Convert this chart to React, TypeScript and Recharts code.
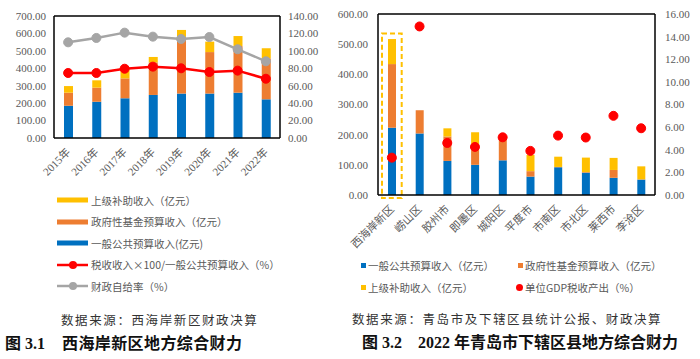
import {
  Bar,
  ComposedChart,
  Line,
  ReferenceArea,
  ReferenceLine,
  XAxis,
  YAxis,
} from "recharts";

// 图 3.1 西海岸新区
const years = ["2015年", "2016年", "2017年", "2018年", "2019年", "2020年", "2021年", "2022年"];
const xhaGeneral = [185, 208, 228, 247, 255, 255, 260, 222];
const xhaFund = [75, 81, 114, 187, 325, 238, 268, 235];
const xhaSubsidy = [38, 42, 48, 31, 40, 60, 57, 58];
const xhaTaxRatio = [74.6, 74.6, 79.5, 81.9, 80.0, 75.7, 77.3, 68.0];
const xhaSelfRate = [109.8, 114.8, 120.9, 116.3, 113.6, 115.9, 101.8, 88.0];
const leftTicks1 = [0, 100, 200, 300, 400, 500, 600, 700];
const rightTicks1 = [0, 20, 40, 60, 80, 100, 120, 140];

// 图 3.2 青岛市下辖区县 2022
const districts = ["西海岸新区", "崂山区", "胶州市", "即墨区", "城阳区", "平度市", "市南区", "市北区", "莱西市", "李沧区"];
const qdGeneral = [223, 204, 113, 100, 115, 61, 92, 74, 57, 51];
const qdFund = [211, 77, 81, 68, 73, 18, 1, 2, 26, 1];
const qdSubsidy = [83, 0, 27, 40, 0, 54, 34, 48, 40, 43];
const qdGdpTax = [3.3, 14.9, 4.6, 4.25, 5.1, 3.9, 5.25, 5.08, 7.0, 5.9];
const leftTicks2 = [0, 100, 200, 300, 400, 500, 600];
const rightTicks2 = [0, 2, 4, 6, 8, 10, 12, 14, 16];

const BLUE = "#0070C0";
const ORANGE = "#ED7D31";
const YELLOW = "#FFC000";
const RED = "#FF0000";
const GRAY = "#A5A5A5";
const TXT = "#595959";
const FONT = '"Liberation Serif", "Noto Sans CJK SC", serif';
const CJK = '"Noto Sans CJK SC", "Liberation Serif", sans-serif';

const tickStyle = { fontSize: 11, fill: TXT, fontFamily: FONT };
const fmt = (v: number) => v.toFixed(2);

const data1 = years.map((y, i) => ({
  name: y,
  general: xhaGeneral[i],
  fund: xhaFund[i],
  subsidy: xhaSubsidy[i],
  tax: xhaTaxRatio[i],
  self: xhaSelfRate[i],
}));

const data2 = districts.map((d, i) => ({
  name: d,
  general: qdGeneral[i],
  fund: qdFund[i],
  subsidy: qdSubsidy[i],
  gdp: qdGdpTax[i],
}));

function RotTick(props: any) {
  const { x, y, payload } = props;
  return (
    <g transform={`translate(${x},${y + 4})`}>
      <text
        x={0}
        y={0}
        dy={4}
        textAnchor="end"
        transform="rotate(-45)"
        fontSize={11}
        fill={TXT}
        fontFamily={FONT}
      >
        {payload.value}
      </text>
    </g>
  );
}

function LegendRow({ top, kind, color, label }: { top: number; kind: "bar" | "line"; color: string; label: string }) {
  return (
    <div style={{ position: "absolute", left: 57, top: top - 8, height: 16, display: "flex", alignItems: "center" }}>
      <svg width={32} height={12} style={{ display: "block" }}>
        {kind === "bar" ? (
          <rect x={0} y={3.5} width={31} height={5} fill={color} />
        ) : (
          <>
            <line x1={0} y1={6} x2={31} y2={6} stroke={color} strokeWidth={2.5} />
            <circle cx={16} cy={6} r={4} fill={color} />
          </>
        )}
      </svg>
      <span style={{ marginLeft: 2, fontSize: 10.5, color: TXT, fontFamily: CJK, whiteSpace: "nowrap" }}>{label}</span>
    </div>
  );
}

function SquareItem({ left, top, color, round, label }: { left: number; top: number; color: string; round?: boolean; label: string }) {
  return (
    <div style={{ position: "absolute", left, top: top - 8, height: 16, display: "flex", alignItems: "center" }}>
      <span
        style={{
          display: "inline-block",
          width: round ? 7 : 5,
          height: round ? 7 : 5,
          borderRadius: round ? "50%" : 0,
          background: color,
        }}
      />
      <span style={{ marginLeft: 2, fontSize: 10.5, color: TXT, fontFamily: CJK, whiteSpace: "nowrap" }}>{label}</span>
    </div>
  );
}

function DashBox(props: any) {
  const { x, y, width, height } = props;
  return (
    <rect
      x={x + 4}
      y={y}
      width={width - 8}
      height={height + 3}
      fill="none"
      stroke={YELLOW}
      strokeWidth={2}
      strokeDasharray="5 3"
    />
  );
}

const captionStyle: React.CSSProperties = {
  position: "absolute",
  fontSize: 12.5,
  letterSpacing: 1.6,
  color: "#333",
  fontFamily: CJK,
  whiteSpace: "nowrap",
};

const titleStyle: React.CSSProperties = {
  position: "absolute",
  fontSize: 16,
  fontWeight: 700,
  color: "#111",
  fontFamily: '"Liberation Serif", "Noto Sans CJK SC", serif',
  whiteSpace: "nowrap",
  lineHeight: "20px",
};

export default function App() {
  return (
    <div
      style={{
        position: "absolute",
        left: 0,
        top: 0,
        width: 700,
        height: 359,
        background: "#fff",
        overflow: "hidden",
      }}
    >
      {/* left chart */}
      <div style={{ position: "absolute", left: 0, top: 0 }}>
        <ComposedChart
          width={330}
          height={188}
          data={data1}
          margin={{ top: 16, right: 0, left: 0, bottom: 13 }}
          barSize={9}
          style={{ overflow: "visible" }}
        >
          <XAxis
            dataKey="name"
            height={37}
            tick={<RotTick />}
            interval={0}
            tickLine={false}
            axisLine={{ stroke: "#000", strokeWidth: 1.5 }}
          />
          <YAxis
            yAxisId="left"
            width={54}
            domain={[0, 700]}
            ticks={leftTicks1}
            tickFormatter={fmt}
            tick={tickStyle}
            tickLine={false}
            axisLine={{ stroke: "#000", strokeWidth: 1.5 }}
          />
          <YAxis
            yAxisId="right"
            orientation="right"
            width={50}
            domain={[0, 140]}
            ticks={rightTicks1}
            tickFormatter={fmt}
            tick={tickStyle}
            tickLine={false}
            axisLine={{ stroke: "#000", strokeWidth: 1.5 }}
          />
          <ReferenceLine yAxisId="left" y={700} stroke="#000" strokeWidth={1.5} />
          <Bar yAxisId="left" dataKey="general" stackId="a" fill={BLUE} isAnimationActive={false} />
          <Bar yAxisId="left" dataKey="fund" stackId="a" fill={ORANGE} isAnimationActive={false} />
          <Bar yAxisId="left" dataKey="subsidy" stackId="a" fill={YELLOW} isAnimationActive={false} />
          <Line
            yAxisId="right"
            dataKey="tax"
            stroke={RED}
            strokeWidth={2.5}
            dot={{ r: 4.5, fill: RED, stroke: RED, strokeWidth: 1 }}
            isAnimationActive={false}
          />
          <Line
            yAxisId="right"
            dataKey="self"
            stroke={GRAY}
            strokeWidth={2.5}
            dot={{ r: 4.5, fill: GRAY, stroke: GRAY, strokeWidth: 1 }}
            isAnimationActive={false}
          />
        </ComposedChart>
      </div>

      <LegendRow top={200} kind="bar" color={YELLOW} label="上级补助收入（亿元）" />
      <LegendRow top={221.5} kind="bar" color={ORANGE} label="政府性基金预算收入（亿元）" />
      <LegendRow top={243} kind="bar" color={BLUE} label="一般公共预算收入(亿元)" />
      <LegendRow top={264.5} kind="line" color={RED} label="税收收入×100/一般公共预算收入（%）" />
      <LegendRow top={286} kind="line" color={GRAY} label="财政自给率（%）" />

      <div style={{ ...captionStyle, left: 61, top: 310 }}>数据来源：西海岸新区财政决算</div>
      <div style={{ ...titleStyle, left: 5, top: 334 }}>图 3.1</div>
      <div style={{ ...titleStyle, left: 62, top: 334, letterSpacing: 0.4 }}>西海岸新区地方综合财力</div>

      {/* right chart */}
      <div style={{ position: "absolute", left: 330, top: 0 }}>
        <ComposedChart
          width={370}
          height={256}
          data={data2}
          margin={{ top: 14, right: 0, left: 0, bottom: 6 }}
          barSize={8}
          style={{ overflow: "visible" }}
        >
          <XAxis
            dataKey="name"
            height={55}
            tick={<RotTick />}
            interval={0}
            tickLine={false}
            axisLine={{ stroke: "#000", strokeWidth: 1.5 }}
          />
          <YAxis
            yAxisId="left"
            width={48}
            domain={[0, 600]}
            ticks={leftTicks2}
            tickFormatter={fmt}
            tick={tickStyle}
            tickLine={false}
            tickMargin={4}
            axisLine={{ stroke: "#000", strokeWidth: 1.5 }}
          />
          <YAxis
            yAxisId="right"
            orientation="right"
            width={45}
            domain={[0, 16]}
            ticks={rightTicks2}
            tickFormatter={fmt}
            tick={tickStyle}
            tickLine={false}
            tickMargin={4}
            axisLine={{ stroke: "#000", strokeWidth: 1.5 }}
          />
          <ReferenceLine yAxisId="left" y={600} stroke="#000" strokeWidth={1.5} />
          <Bar yAxisId="left" dataKey="general" stackId="b" fill={BLUE} isAnimationActive={false} />
          <Bar yAxisId="left" dataKey="fund" stackId="b" fill={ORANGE} isAnimationActive={false} />
          <Bar yAxisId="left" dataKey="subsidy" stackId="b" fill={YELLOW} isAnimationActive={false} />
          <ReferenceArea
            yAxisId="left"
            x1="西海岸新区"
            x2="西海岸新区"
            y1={0}
            y2={535}
            ifOverflow="visible"
            shape={<DashBox />}
          />
          <Line
            yAxisId="right"
            dataKey="gdp"
            stroke="none"
            strokeWidth={0}
            dot={{ r: 4.5, fill: RED, stroke: RED, strokeWidth: 1 }}
            isAnimationActive={false}
          />
        </ComposedChart>
      </div>

      <SquareItem left={361} top={265} color={BLUE} label="一般公共预算收入（亿元）" />
      <SquareItem left={518} top={265} color={ORANGE} label="政府性基金预算收入（亿元）" />
      <SquareItem left={361} top={287} color={YELLOW} label="上级补助收入（亿元）" />
      <SquareItem left={516} top={287} color={RED} round label="单位GDP税收产出（%）" />

      <div style={{ ...captionStyle, left: 352, top: 309 }}>数据来源：青岛市及下辖区县统计公报、财政决算</div>
      <div style={{ ...titleStyle, left: 362, top: 333 }}>图 3.2</div>
      <div style={{ ...titleStyle, left: 418, top: 333 }}>2022 年青岛市下辖区县地方综合财力</div>
    </div>
  );
}
